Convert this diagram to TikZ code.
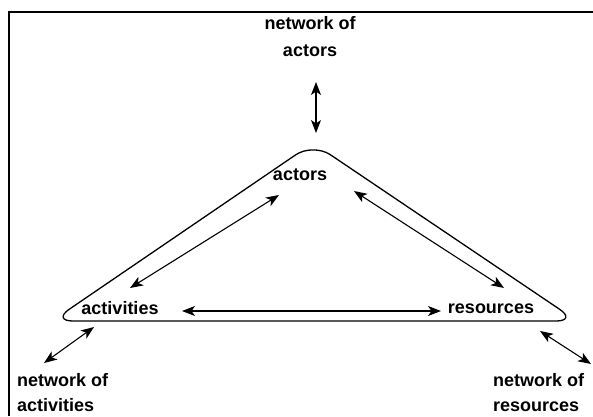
\documentclass[tikz,border=0pt]{standalone}
\usepackage{fontspec}
\setmainfont{Liberation Sans}
\usetikzlibrary{arrows.meta}
\tikzset{
  tip/.tip={Stealth[length=13pt,width=10pt,inset=3.5pt]},
  lbl/.style={font=\bfseries\fontsize{18}{25}\selectfont, inner sep=0pt},
  dbl/.style={line width=1.1pt, {tip}-{tip}},
  frame/.style={line width=1.8pt},
  tri/.style={line width=1.3pt, rounded corners=21pt}
}
\begin{document}
\begin{tikzpicture}[x=1pt,y=-1pt]
\useasboundingbox (0,0) rectangle (593,416);
% frame
\coordinate (fl) at (9,416);
\coordinate (tl) at (9,12);
\coordinate (tr) at (593,12);
\draw[frame] (fl) -- (tl) -- (tr);
% triangle
\coordinate (A) at (313,143);
\coordinate (L) at (52,321);
\coordinate (R) at (577,321);
\draw[tri] (A) -- (R) -- (L) -- cycle;
% labels
\node[lbl, align=center] (na) at (310,37) {network of\\[2pt]actors};
\node[lbl] (act) at (300,175) {actors};
\node[lbl] (acv) at (120,308) {activities};
\node[lbl] (res) at (491,309) {resources};
\node[lbl, align=left, anchor=north west] (nav) at (17,373) {network of\\activities};
\node[lbl, align=left, anchor=north west] (nr) at (493,373) {network of\\resources};
% arrow end points
\coordinate (v1) at (316,82);
\coordinate (v2) at (316,133);
\coordinate (l1) at (279,195);
\coordinate (l2) at (130,288);
\coordinate (r1) at (354,191);
\coordinate (r2) at (504,288);
\coordinate (h1) at (182,311);
\coordinate (h2) at (441,311);
\coordinate (o1) at (94,327);
\coordinate (o2) at (44,363);
\coordinate (p1) at (540,331);
\coordinate (p2) at (591,364);
\draw[dbl] (v1) -- (v2);
\draw[dbl] (l1) -- (l2);
\draw[dbl] (r1) -- (r2);
\draw[dbl] (h1) -- (h2);
\draw[dbl] (o1) -- (o2);
\draw[dbl] (p1) -- (p2);
\end{tikzpicture}
\end{document}
